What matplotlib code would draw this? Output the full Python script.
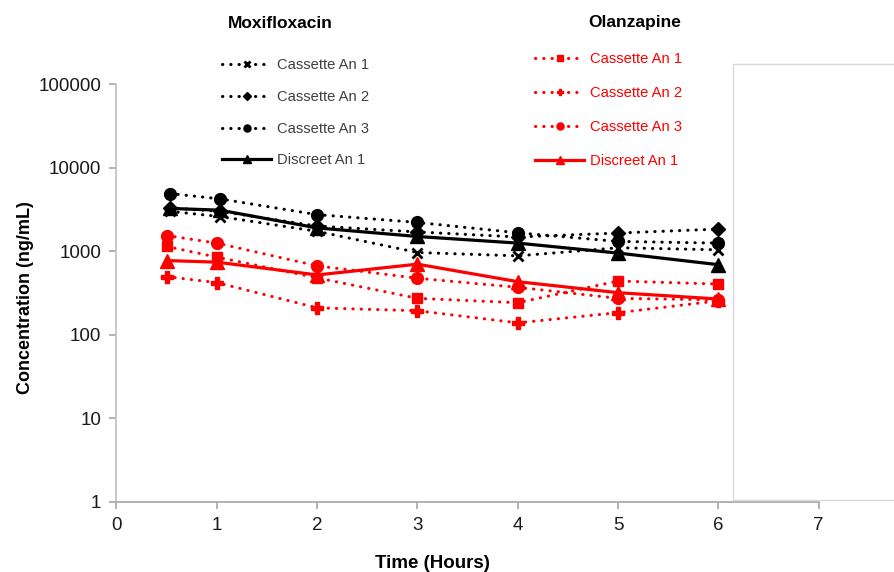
import matplotlib
matplotlib.use("Agg")
import matplotlib.pyplot as plt
from matplotlib.patches import Rectangle

plt.rcParams['font.family'] = ['Liberation Sans', 'DejaVu Sans']

# Time points (hours)
time_moxi = [0.53, 1.03, 2, 3, 4, 5, 6]
time_olan = [0.5, 1, 2, 3, 4, 5, 6]

# Moxifloxacin (ng/mL)
moxi_cas1 = [3000, 2600, 1730, 965, 880, 1100, 1040]
moxi_cas2 = [3300, 3000, 2000, 1700, 1480, 1650, 1840]
moxi_cas3 = [4900, 4230, 2740, 2210, 1660, 1310, 1250]
moxi_dis1 = [3250, 3100, 1900, 1500, 1250, 950, 690]

# Olanzapine (ng/mL)
olan_cas1 = [1140, 850, 480, 273, 242, 440, 405]
olan_cas2 = [497, 421, 210, 194, 139, 184, 255]
olan_cas3 = [1540, 1250, 668, 475, 370, 273, 262]
olan_dis1 = [773, 740, 520, 700, 432, 319, 268]

labels = ["Cassette An 1", "Cassette An 2", "Cassette An 3", "Discreet An 1"]
x_ticks = [0, 1, 2, 3, 4, 5, 6, 7]
y_ticks = [1, 10, 100, 1000, 10000, 100000]

fig = plt.figure(figsize=(8.94, 5.72), dpi=100)
ax = fig.add_axes([0.1303, 0.1224, 0.7855, 0.7307])

dot = (0, (0.1, 2.6))
lw_dot = 2.2
lw_sol = 2.3

mh = []
mh.append(ax.plot(time_moxi, moxi_cas1, color='black', ls=dot, lw=lw_dot, dash_capstyle='round',
                  marker='x', ms=7, mew=2)[0])
mh.append(ax.plot(time_moxi, moxi_cas2, color='black', ls=dot, lw=lw_dot, dash_capstyle='round',
                  marker='D', ms=7.5)[0])
mh.append(ax.plot(time_moxi, moxi_cas3, color='black', ls=dot, lw=lw_dot, dash_capstyle='round',
                  marker='o', ms=8.5)[0])
mh.append(ax.plot(time_moxi, moxi_dis1, color='black', ls='-', lw=lw_sol,
                  marker='^', ms=9.5)[0])

oh = []
oh.append(ax.plot(time_olan, olan_cas1, color='#ff0000', ls=dot, lw=lw_dot, dash_capstyle='round',
                  marker='s', ms=7.5)[0])
oh.append(ax.plot(time_olan, olan_cas2, color='#ff0000', ls=dot, lw=lw_dot, dash_capstyle='round',
                  marker='P', ms=8)[0])
oh.append(ax.plot(time_olan, olan_cas3, color='#ff0000', ls=dot, lw=lw_dot, dash_capstyle='round',
                  marker='o', ms=8.5)[0])
oh.append(ax.plot(time_olan, olan_dis1, color='#ff0000', ls='-', lw=lw_sol,
                  marker='^', ms=9.5)[0])

ax.set_yscale('log')
ax.set_ylim(1, 100000)
ax.set_xlim(0, 7)
ax.set_xticks(x_ticks)
ax.set_xticklabels([str(t) for t in x_ticks])
ax.set_yticks(y_ticks)
ax.set_yticklabels([str(v) for v in y_ticks])
ax.yaxis.set_minor_locator(matplotlib.ticker.NullLocator())

for s in ['top', 'right']:
    ax.spines[s].set_visible(False)
ax.spines['left'].set_color('#bfbfbf')
ax.spines['bottom'].set_color('#a6a6a6')
ax.spines['left'].set_linewidth(1.2)
ax.spines['bottom'].set_linewidth(1.2)
ax.tick_params(axis='both', direction='out', length=5, width=1.2, color='#a6a6a6',
               labelsize=13.5, labelcolor='#1a1a1a')
ax.tick_params(axis='x', pad=6)
ax.tick_params(axis='y', pad=6)

ax.set_xlabel('Time (Hours)', fontsize=13.5, fontweight='bold')
ax.xaxis.set_label_coords(0.45, -0.128)
ax.set_ylabel('Concentration (ng/mL)', fontsize=13, fontweight='bold')
ax.yaxis.set_label_coords(-0.118, 0.49)

# Right-side empty plot-area box
fig.patches.append(Rectangle((733 / 894, 1 - 500 / 572), 0.3, (500 - 64) / 572,
                             transform=fig.transFigure, facecolor='none',
                             edgecolor='#d9d9d9', lw=1.0))

# Legends
fig.text(280 / 894, 1 - 23 / 572, 'Moxifloxacin', fontsize=12.5, fontweight='bold',
         ha='center', va='center')
fig.text(635 / 894, 1 - 23 / 572, 'Olanzapine', fontsize=12.5, fontweight='bold',
         ha='center', va='center')

leg1 = fig.legend(mh, labels, loc='upper left', bbox_to_anchor=(218 / 894, 1 - 54 / 572),
                  frameon=False, fontsize=10.6, handlelength=3.3, handletextpad=0.4,
                  labelspacing=1.2, markerscale=0.6, borderaxespad=0, borderpad=0.3)
for t in leg1.get_texts():
    t.set_color('#404040')

leg2 = fig.legend(oh, labels, loc='upper left', bbox_to_anchor=(531 / 894, 1 - 48 / 572),
                  frameon=False, fontsize=10.6, handlelength=3.3, handletextpad=0.4,
                  labelspacing=1.36, markerscale=0.6, borderaxespad=0, borderpad=0.3)
for t in leg2.get_texts():
    t.set_color('#ff0000')

fig.savefig('out.png', dpi=100)
